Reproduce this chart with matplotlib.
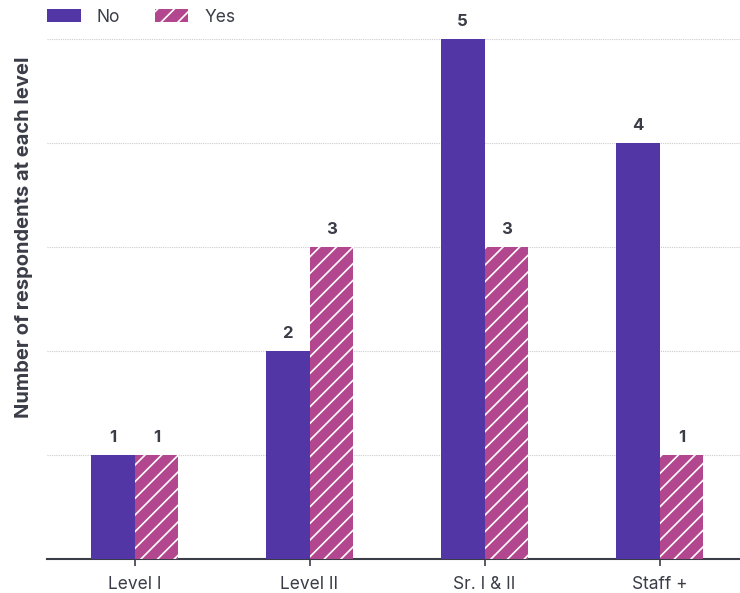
import matplotlib.pyplot as plt
import numpy as np

plt.rcParams['font.family'] = ['Inter', 'DejaVu Sans']
plt.rcParams['hatch.color'] = 'white'
plt.rcParams['hatch.linewidth'] = 1.2

levels = ['Level I', 'Level II', 'Sr. I & II', 'Staff +']
no_vals = [1, 2, 5, 4]
yes_vals = [1, 3, 3, 1]

col_no = '#5236a6'
col_yes = '#b3478f'
txt = '#3a3d47'

fig = plt.figure(figsize=(7.4, 5.93), dpi=100)
ax = fig.add_axes([47 / 740, 34 / 593, 693 / 740, 520 / 593])

x = np.arange(len(levels))
w = 0.25
b1 = ax.bar(x - w / 2, no_vals, w, color=col_no, label='No', zorder=3)
b2 = ax.bar(x + w / 2, yes_vals, w, color=col_yes, hatch='//', edgecolor='white',
            linewidth=0, label='Yes', zorder=3)

for bars in (b1, b2):
    for r in bars:
        ax.text(r.get_x() + r.get_width() / 2, r.get_height() + 0.1, str(int(r.get_height())),
                ha='center', va='bottom', fontsize=12, fontweight='bold', color=txt)

ax.set_xlim(-0.5, 3.46)
ax.set_ylim(0, 5)
ax.set_yticks([1, 2, 3, 4, 5])
ax.set_yticklabels([])
ax.tick_params(axis='y', length=0)
ax.grid(axis='y', color='#cccccc', linestyle=(0, (1, 1)), linewidth=0.8, zorder=0)
ax.set_xticks(x)
ax.set_xticklabels(levels, fontsize=12.5, color=txt)
ax.tick_params(axis='x', length=5, width=1.2, color=txt, pad=7)

for s in ['top', 'right', 'left']:
    ax.spines[s].set_visible(False)
ax.spines['bottom'].set_color(txt)
ax.spines['bottom'].set_linewidth(1.5)

ax.set_ylabel('Number of respondents at each level', fontsize=14.5, fontweight='bold',
              color=txt)
ax.yaxis.set_label_coords(-0.020, 0.619)

ax.legend(loc='center left', bbox_to_anchor=(0, 1 + 22 / 520), ncol=2, frameon=False,
          fontsize=12.5, handlelength=1.95, handleheight=0.7, handletextpad=0.9,
          columnspacing=2.0, borderaxespad=0, borderpad=0, labelcolor=txt)

fig.savefig('out.png', dpi=100)
